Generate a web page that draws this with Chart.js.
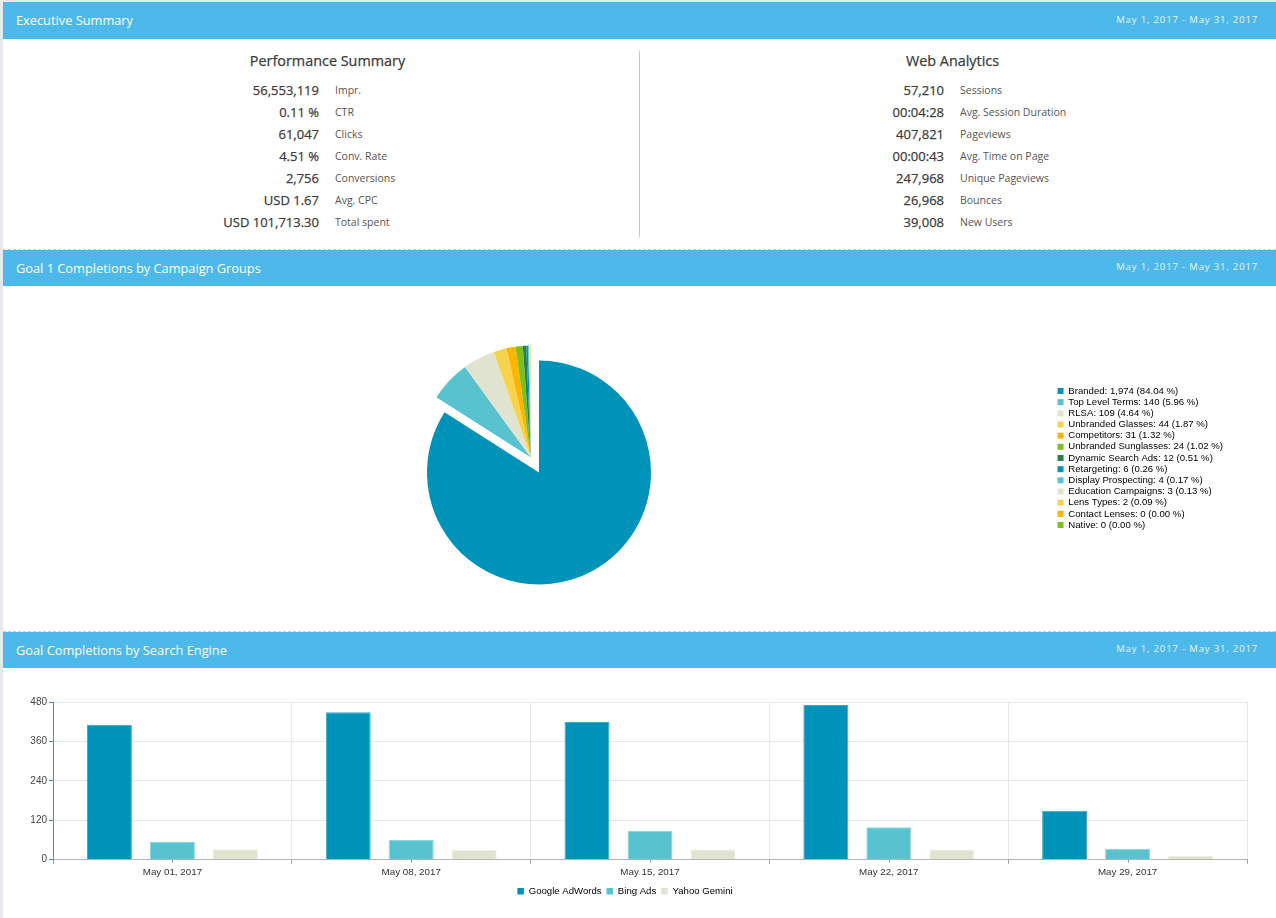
<!DOCTYPE html>
<html><head><meta charset="utf-8">
<script src="https://cdn.jsdelivr.net/npm/chart.js@4"></script>
<style>
html,body{margin:0;padding:0;background:#fff;overflow:hidden}
body{width:1276px;height:918px;position:relative;font-family:"Open Sans",sans-serif;color:#444}
.strip{position:absolute;left:0;top:0;width:2.5px;height:918px;background:#e6eaee}
.top{position:absolute;left:0;top:0;width:1276px;height:2px;background:#e6eaee}
.hdr{position:absolute;left:3px;width:1273px;height:37px;background:#4db9ea;color:#fff;font-size:12.8px;line-height:37px}
.hdr .t{position:absolute;left:13px;top:0}
.hdr .d{position:absolute;right:18px;top:-1px;font-size:9.5px;letter-spacing:.85px;opacity:.88}
.dash{position:absolute;left:3px;width:1273px;border-top:1px dashed #c9ced2;height:0}
.sec{position:absolute;font-size:14.4px;font-weight:400;color:#3c3c3c;-webkit-text-stroke:.25px #3c3c3c;white-space:nowrap;transform:translateX(-50%)}
.num{position:absolute;font-size:13px;font-weight:400;color:#3c3c3c;-webkit-text-stroke:.25px #3c3c3c;white-space:nowrap;text-align:right;line-height:20px;width:200px}
.lab{position:absolute;font-size:10.5px;color:#555;white-space:nowrap;line-height:20px}
.vr{position:absolute;left:639px;top:51px;width:1px;height:186px;background:#c4c4c4}
canvas{position:absolute;display:block}
#pieWrap{position:absolute;left:3px;top:286px;width:1273px;height:344px}
#barWrap{position:absolute;left:3px;top:668px;width:1273px;height:250px}
</style></head><body>
<div class="top"></div><div class="strip"></div>
<div id="heads"></div>
<div id="stats"></div>
<div class="vr"></div>
<div id="pieWrap"><canvas id="pie"></canvas></div>
<div id="barWrap"><canvas id="bar"></canvas></div>
<script>
const dateRange = "May 1, 2017 - May 31, 2017";
const sectionTitles = ["Executive Summary","Goal 1 Completions by Campaign Groups","Goal Completions by Search Engine"];
const perfValues = ["56,553,119","0.11 %","61,047","4.51 %","2,756","USD 1.67","USD 101,713.30"];
const perfLabels = ["Impr.","CTR","Clicks","Conv. Rate","Conversions","Avg. CPC","Total spent"];
const webValues = ["57,210","00:04:28","407,821","00:00:43","247,968","26,968","39,008"];
const webLabels = ["Sessions","Avg. Session Duration","Pageviews","Avg. Time on Page","Unique Pageviews","Bounces","New Users"];
const groupNames = ["Branded","Top Level Terms","RLSA","Unbranded Glasses","Competitors","Unbranded Sunglasses","Dynamic Search Ads","Retargeting","Display Prospecting","Education Campaigns","Lens Types","Contact Lenses","Native"];
const groupValues = [1974,140,109,44,31,24,12,6,4,3,2,0,0];
const groupPercents = ["84.04","5.96","4.64","1.87","1.32","1.02","0.51","0.26","0.17","0.13","0.09","0.00","0.00"];
const palette = ["#0093ba","#58c3ce","#e0e3cf","#f5d44d","#ffb400","#7cbf1f","#2e7d4f","#0093ba","#58c3ce","#e0e3cf","#f5d44d","#ffb400","#7cbf1f"];
const weeks = ["May 01, 2017","May 08, 2017","May 15, 2017","May 22, 2017","May 29, 2017"];
const googleAds = [411,449,419,471,149];
const bingAds = [54,60,88,99,33];
const yahooGemini = [32,30,31,31,11];

const headTops=[2,250,632];
document.getElementById('heads').innerHTML = sectionTitles.map((t,i)=>
 `<div class="hdr" style="top:${headTops[i]}px;${i?'height:36px;line-height:36px':''}"><span class="t">${t}</span><span class="d">${dateRange}</span></div>`+
 (i?`<div class="dash" style="top:${headTops[i]-1}px"></div>`:'')).join('');
function block(title,cx,numRight,labLeft,vals,labs){
  let h=`<div class="sec" style="left:${cx}px;top:51px">${title}</div>`;
  vals.forEach((v,i)=>{const y=80+22*i;
    h+=`<div class="num" style="left:${numRight-200}px;top:${y}px">${v}</div><div class="lab" style="left:${labLeft}px;top:${y}px">${labs[i]}</div>`;});
  return h;
}
document.getElementById('stats').innerHTML =
  block("Performance Summary",327.5,319,335,perfValues,perfLabels)+
  block("Web Analytics",952.5,944,960,webValues,webLabels);

/* lowers the pie under the centred legend, and moves every slice after the first as one group away from the centre */
const explodeGroup={id:'explodeGroup',afterDatasetUpdate(chart){
  const arcs=chart.getDatasetMeta(0).data; if(!arcs.length)return;
  const a0=arcs[1].startAngle,a1=arcs[arcs.length-1].endAngle,m=(a0+a1)/2,d=17,dy=14.5;
  arcs.forEach((a,i)=>{a.y+=dy; if(i){a.x+=Math.cos(m)*d;a.y+=Math.sin(m)*d;}});
}};
Chart.defaults.animation=false;
new Chart(document.getElementById('pie'),{type:'pie',plugins:[explodeGroup],
 data:{labels:groupNames,datasets:[{data:groupValues,backgroundColor:palette,borderWidth:0}]},
 options:{responsive:true,maintainAspectRatio:false,radius:112,
  layout:{padding:{left:19,right:43,top:0,bottom:0}},
  plugins:{tooltip:{enabled:false},legend:{position:'right',align:'center',
   labels:{boxWidth:6,boxHeight:6,padding:1.57,color:'#333',font:{family:'"Liberation Sans"',size:9.6},
    generateLabels(){return groupNames.map((n,i)=>({text:`${n}: ${groupValues[i].toLocaleString('en-US')} (${groupPercents[i]} %)`,fillStyle:palette[i],strokeStyle:palette[i],lineWidth:0,index:i}));}}}}}});

const centerTicks={id:'centerTicks',afterDraw(c){const s=c.scales.x,g=c.ctx;g.save();g.strokeStyle='#999';g.lineWidth=1;
  weeks.forEach((w,i)=>{const x=Math.round(s.getPixelForValue(i))+.5;g.beginPath();g.moveTo(x,s.top);g.lineTo(x,s.top+3);g.stroke();});g.restore();}};
new Chart(document.getElementById('bar'),{type:'bar',plugins:[centerTicks],
 data:{labels:weeks,datasets:[
  {label:'Google AdWords',data:googleAds,backgroundColor:'#0093ba',borderColor:'#3aa9c8',borderWidth:1},
  {label:'Bing Ads',data:bingAds,backgroundColor:'#58c3ce',borderColor:'#8ad5dc',borderWidth:1},
  {label:'Yahoo Gemini',data:yahooGemini,backgroundColor:'#e0e3cf',borderColor:'#eceedf',borderWidth:1}]},
 options:{responsive:true,maintainAspectRatio:false,
  categoryPercentage:.7915,barPercentage:.714,
  layout:{padding:{left:0,right:29,top:34,bottom:12}},
  scales:{
   x:{grid:{color:'#e8e8e8',tickColor:'#999',tickLength:4,offset:true},border:{color:'#b5b5b5',width:1},
      ticks:{color:'#333',font:{family:'"Liberation Sans"',size:9.8},padding:3,maxRotation:0}},
   y:{min:0,max:480,afterFit(s){s.width=50;},grid:{color:'#e8e8e8',tickColor:'#2aa0c0',tickLength:4},border:{color:'#2aa0c0',width:1},
      ticks:{stepSize:120,color:'#444',font:{family:'"Liberation Sans"',size:10},padding:2}}},
  plugins:{tooltip:{enabled:false},legend:{position:'bottom',align:'center',
    labels:{boxWidth:6.5,boxHeight:6.5,padding:5,color:'#333',font:{family:'"Liberation Sans"',size:9.6},
      generateLabels(c){return c.data.datasets.map((d,i)=>({text:d.label,fillStyle:d.backgroundColor,strokeStyle:d.backgroundColor,lineWidth:0,datasetIndex:i}));}}}}}});
</script></body></html>
